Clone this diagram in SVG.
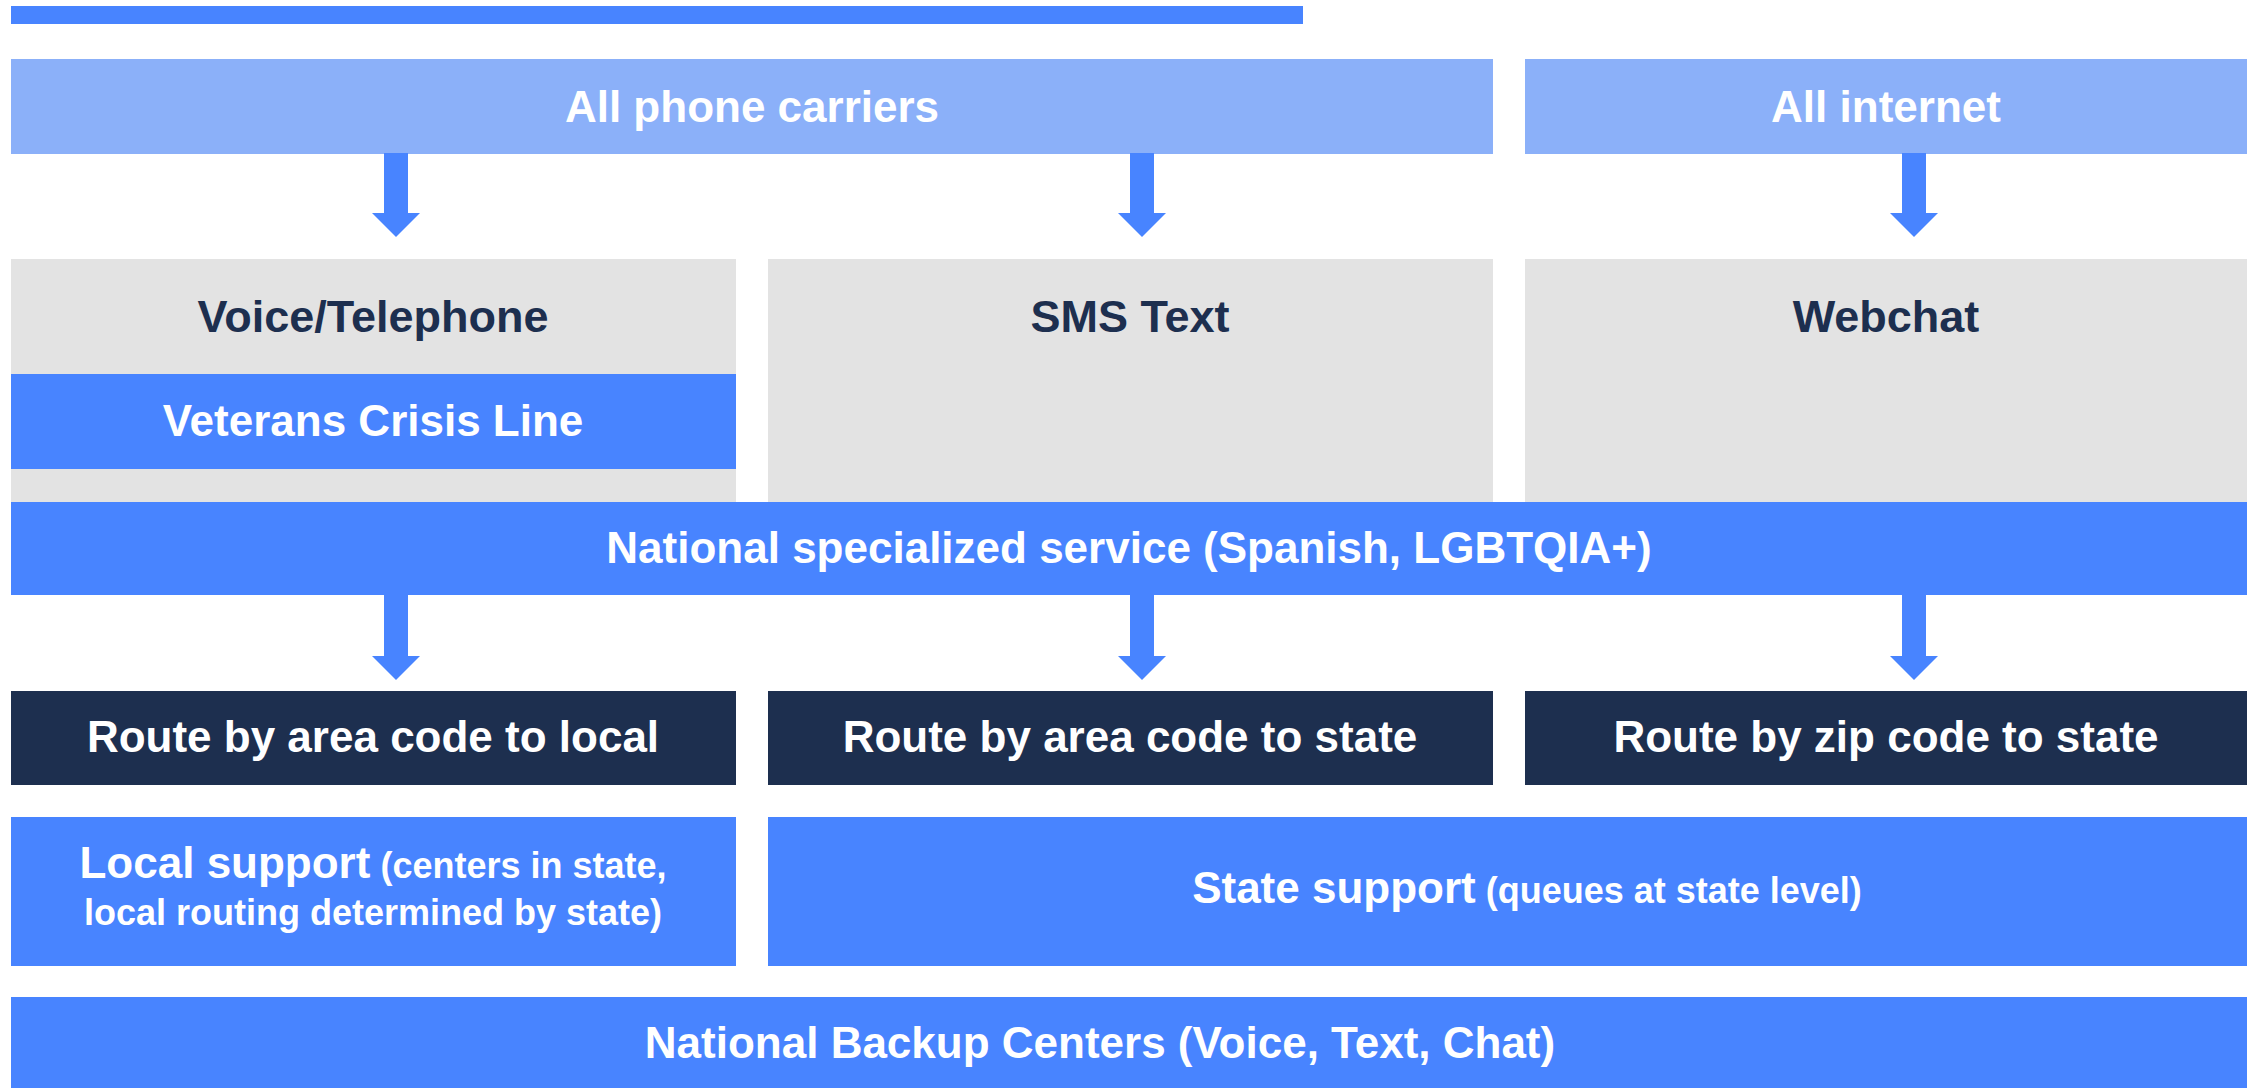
<svg xmlns="http://www.w3.org/2000/svg" width="2260" height="1088" viewBox="0 0 2260 1088">
<style>
  .light{fill:#8bb0f9}
  .blue{fill:#4884ff}
  .gray{fill:#e3e3e3}
  .navy{fill:#1d2f4f}
  .arrow{fill:#4884ff}
  text{font-family:"Liberation Sans",Arial,sans-serif;font-weight:700;text-anchor:middle}
  .w{fill:#ffffff;font-size:44px}
  .d{fill:#1d2f4f;font-size:45px}
  .s{font-size:36px}
</style>
<rect width="2260" height="1088" fill="#ffffff"/>
<rect id="topbar" x="11" y="6" width="1292" height="18" class="blue"/>

<g id="phone-carriers">
  <rect x="11" y="59" width="1482" height="95" class="light"/>
  <text x="752" y="122" class="w">All phone carriers</text>
</g>
<g id="all-internet">
  <rect x="1525" y="59" width="722" height="95" class="light"/>
  <text x="1886" y="122" class="w">All internet</text>
</g>

<g id="voice">
  <rect x="11" y="259" width="725" height="243" class="gray"/>
  <text x="373" y="332" class="d">Voice/Telephone</text>
</g>
<g id="veterans">
  <rect x="11" y="374" width="725" height="95" class="blue"/>
  <text x="373" y="436" class="w">Veterans Crisis Line</text>
</g>
<g id="sms">
  <rect x="768" y="259" width="725" height="243" class="gray"/>
  <text x="1130" y="332" class="d">SMS Text</text>
</g>
<g id="webchat">
  <rect x="1525" y="259" width="722" height="243" class="gray"/>
  <text x="1886" y="332" class="d">Webchat</text>
</g>

<g id="national-specialized">
  <rect x="11" y="502" width="2236" height="93" class="blue"/>
  <text x="1129" y="563" class="w">National specialized service (Spanish, LGBTQIA+)</text>
</g>

<g id="route-local">
  <rect x="11" y="691" width="725" height="94" class="navy"/>
  <text x="373" y="752" class="w">Route by area code to local</text>
</g>
<g id="route-state">
  <rect x="768" y="691" width="725" height="94" class="navy"/>
  <text x="1130" y="752" class="w">Route by area code to state</text>
</g>
<g id="route-zip">
  <rect x="1525" y="691" width="722" height="94" class="navy"/>
  <text x="1886" y="752" class="w">Route by zip code to state</text>
</g>

<g id="local-support">
  <rect x="11" y="817" width="725" height="149" class="blue"/>
  <text x="373" y="878" class="w">Local support<tspan class="s"> (centers in state,</tspan></text>
  <text x="373" y="925" class="w s">local routing determined by state)</text>
</g>
<g id="state-support">
  <rect x="768" y="817" width="1479" height="149" class="blue"/>
  <text x="1527" y="903" class="w">State support<tspan class="s"> (queues at state level)</tspan></text>
</g>

<g id="national-backup">
  <rect x="11" y="997" width="2236" height="91" class="blue"/>
  <text x="1100" y="1058" class="w">National Backup Centers (Voice, Text, Chat)</text>
</g>

<g id="connectors">
  <path class="arrow" d="M384 153H408V213H420L396 237L372 213H384Z"/>
  <path class="arrow" d="M1130 153H1154V213H1166L1142 237L1118 213H1130Z"/>
  <path class="arrow" d="M1902 153H1926V213H1938L1914 237L1890 213H1902Z"/>
  <path class="arrow" d="M384 595H408V656H420L396 680L372 656H384Z"/>
  <path class="arrow" d="M1130 595H1154V656H1166L1142 680L1118 656H1130Z"/>
  <path class="arrow" d="M1902 595H1926V656H1938L1914 680L1890 656H1902Z"/>
</g>
</svg>
